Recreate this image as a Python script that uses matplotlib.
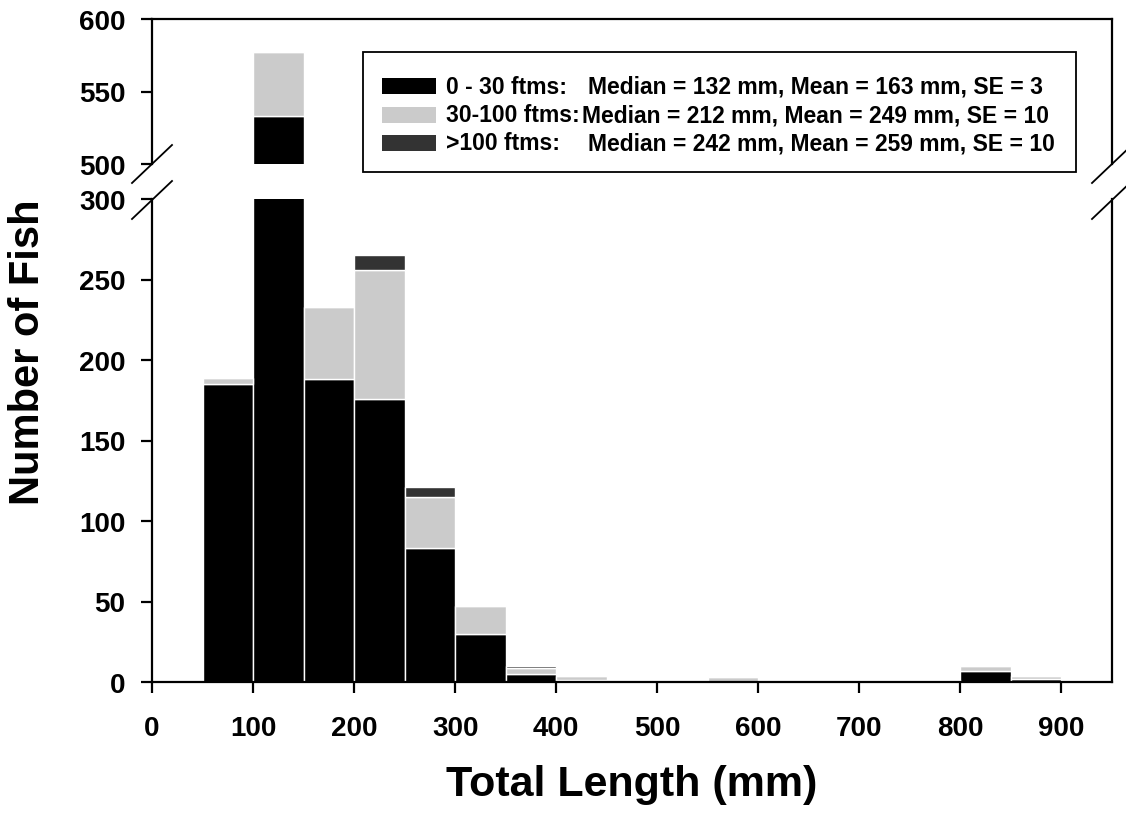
import numpy as np
import matplotlib
matplotlib.use('Agg')
import matplotlib.pyplot as plt
from matplotlib.lines import Line2D
from matplotlib.patches import Rectangle

# length bins (left edge, mm) and counts per depth class
bin_left = [50, 100, 150, 200, 250, 300, 350, 400, 450, 500, 550, 600, 650, 700, 750, 800, 850]
shallow = [185, 533, 188, 176, 83, 30, 5, 1, 0, 0, 0, 0, 0, 0, 0, 7, 2]
mid = [4, 44, 45, 80, 32, 17, 4, 3, 0, 0, 3, 0, 0, 1, 1, 3, 2]
deep = [0, 0, 0, 9, 6, 0, 1, 0, 0, 0, 0, 0, 0, 0, 0, 0, 0]

labels = ['0 - 30 ftms:', '30-100 ftms:', '>100 ftms:']
stats = ['Median = 132 mm, Mean = 163 mm, SE = 3',
         'Median = 212 mm, Mean = 249 mm, SE = 10',
         'Median = 242 mm, Mean = 259 mm, SE = 10']
colors = ['#000000', '#cbcbcb', '#333333']

x_ticks = [0, 100, 200, 300, 400, 500, 600, 700, 800, 900]
low_ticks = [0, 50, 100, 150, 200, 250, 300]
high_ticks = [500, 550, 600]

plt.rcParams['font.family'] = ['Liberation Sans', 'DejaVu Sans']
plt.rcParams['font.weight'] = 'bold'

W, H = 1126, 829
fig = plt.figure(figsize=(W / 100, H / 100), dpi=100)

def fx(px):
  return px / W

def fy(py):
  return 1 - py / H

ax_lo = fig.add_axes([fx(152), fy(683), fx(1112) - fx(152), fy(200) - fy(683)])
ax_hi = fig.add_axes([fx(152), fy(165), fx(1112) - fx(152), fy(20) - fy(165)])

sh = np.array(shallow)
md = np.array(mid)
dp = np.array(deep)
for ax in (ax_lo, ax_hi):
  ax.bar(bin_left, sh, width=50, align='edge', color=colors[0], edgecolor='white', linewidth=1)
  ax.bar(bin_left, md, width=50, align='edge', bottom=sh, color=colors[1], edgecolor='white', linewidth=1)
  ax.bar(bin_left, dp, width=50, align='edge', bottom=sh + md, color=colors[2], edgecolor='white', linewidth=1)
  ax.set_xlim(0, 950)
  for s in ax.spines.values():
    s.set_linewidth(1.6)
  ax.tick_params(direction='out', length=8, width=1.6, labelsize=20)

ax_lo.set_ylim(0, 300)
ax_lo.set_yticks(low_ticks)
ax_lo.set_xticks(x_ticks)
ax_lo.tick_params(axis='x', pad=16)
ax_lo.tick_params(axis='y', pad=11)
ax_lo.spines['top'].set_visible(False)

ax_hi.set_ylim(500, 600)
ax_hi.set_yticks(high_ticks)
ax_hi.set_xticks([])
ax_hi.tick_params(axis='y', pad=11)
ax_hi.spines['bottom'].set_visible(False)

for lab in ax_lo.get_xticklabels() + ax_lo.get_yticklabels() + ax_hi.get_yticklabels():
  lab.set_fontweight('bold')

ax_lo.set_xlabel('Total Length (mm)', fontsize=31, fontweight='bold', labelpad=16)
fig.text(fx(28), fy(352), 'Number of Fish', rotation=90, fontsize=30, fontweight='bold',
         ha='center', va='center')

# break marks across the spines
for xp in (152, 1112):
  for yp in (165, 201):
    fig.add_artist(Line2D([fx(xp - 20), fx(xp + 20)], [fy(yp + 19), fy(yp - 19)],
                          color='black', linewidth=1.3, transform=fig.transFigure))

# legend box
fig.add_artist(Rectangle((fx(363), fy(173)), fx(1076) - fx(363), fy(53) - fy(173),
                         transform=fig.transFigure, facecolor='white', edgecolor='black', linewidth=1.3))
rows = [87, 116, 144]
stat_x = [588, 582, 588]
for i in range(3):
  fig.add_artist(Rectangle((fx(382), fy(rows[i] + 8)), fx(436) - fx(382), fy(0) - fy(16),
                           transform=fig.transFigure, facecolor=colors[i], edgecolor='none'))
  fig.text(fx(446), fy(rows[i]), labels[i], fontsize=16.5, fontweight='bold', va='center', ha='left')
  fig.text(fx(stat_x[i]), fy(rows[i]), stats[i], fontsize=16.5, fontweight='bold', va='center', ha='left')

fig.savefig('out.png', dpi=100)
